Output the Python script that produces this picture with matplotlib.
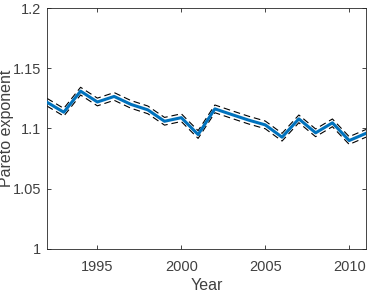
import matplotlib
matplotlib.use("Agg")
import matplotlib.pyplot as plt

years = list(range(1992, 2012))
estimate = [1.1218, 1.1135, 1.1310, 1.1220, 1.1266, 1.1200, 1.1155, 1.1060, 1.1090, 1.0950,
            1.1163, 1.1116, 1.1070, 1.1030, 1.0928, 1.1080, 1.0964, 1.1047, 1.0900, 1.0960]
upper = [1.1250, 1.1167, 1.1342, 1.1252, 1.1298, 1.1232, 1.1187, 1.1092, 1.1122, 1.0982,
         1.1195, 1.1148, 1.1102, 1.1062, 1.0960, 1.1112, 1.0996, 1.1079, 1.0932, 1.0992]
lower = [1.1186, 1.1103, 1.1278, 1.1188, 1.1234, 1.1168, 1.1123, 1.1028, 1.1058, 1.0918,
         1.1131, 1.1084, 1.1038, 1.0998, 1.0896, 1.1048, 1.0932, 1.1015, 1.0868, 1.0928]
xticks = [1995, 2000, 2005, 2010]
yticks = [1.0, 1.05, 1.1, 1.15, 1.2]
yticklabels = ["1", "1.05", "1.1", "1.15", "1.2"]

plt.rcParams['font.family'] = ['Liberation Sans', 'DejaVu Sans']
gray = '#262626'
textgray = '#404040'

fig = plt.figure(figsize=(3.77, 2.94), dpi=100)
ax = fig.add_axes([47/377, 1 - 249/294, (366-47)/377, (249-8)/294])

ax.plot(years, estimate, color='#0072BD', lw=2.2, zorder=3)
ax.plot(years, upper, color='black', lw=0.8, ls=(0, (6, 3.5)), zorder=2)
ax.plot(years, lower, color='black', lw=0.8, ls=(0, (6, 3.5)), zorder=2)

ax.set_xlim(1992, 2011)
ax.set_ylim(1.0, 1.2)
ax.set_xticks(xticks)
ax.set_yticks(yticks)
ax.set_yticklabels(yticklabels)
ax.tick_params(direction='in', length=3, width=0.6, colors=gray, labelsize=10.5,
               top=True, right=True, labeltop=False, labelright=False)
ax.tick_params(axis='both', labelcolor=textgray)
ax.tick_params(axis='x', pad=8)
ax.tick_params(axis='y', pad=4)
for s in ax.spines.values():
    s.set_color(gray)
    s.set_linewidth(0.6)
ax.set_xlabel('Year', fontsize=11.5, color=textgray)
ax.set_ylabel('Pareto exponent', fontsize=11.5, color=textgray)
ax.xaxis.set_label_coords(0.5, -0.12)
ax.yaxis.set_label_coords(-0.103, 0.5)

fig.savefig('out.png', dpi=100)
